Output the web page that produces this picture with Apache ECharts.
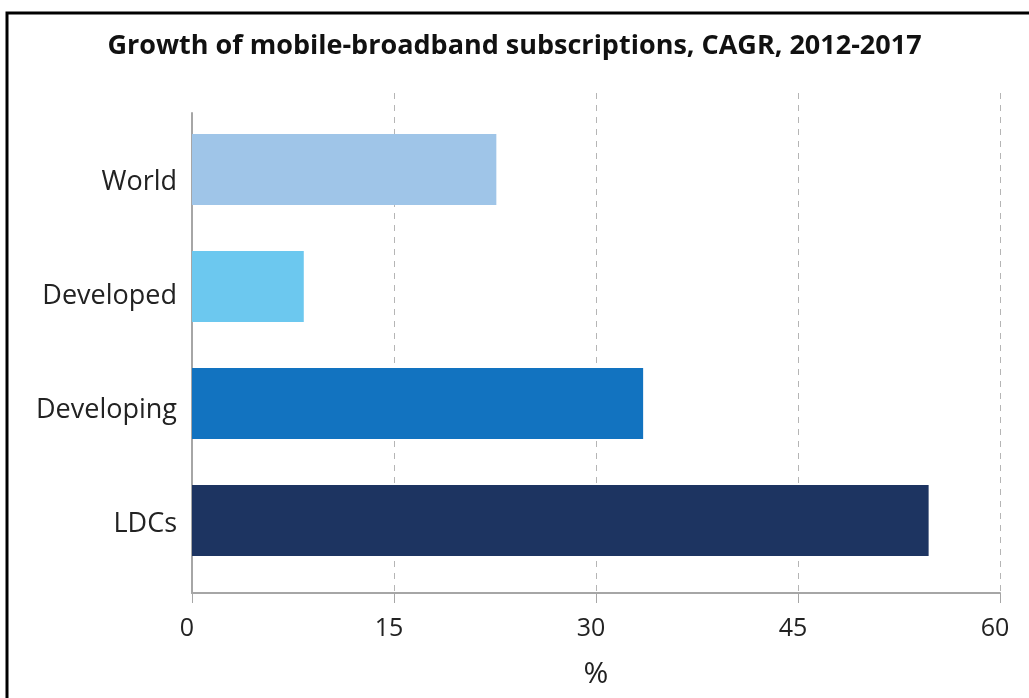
<!DOCTYPE html>
<html>
<head>
<meta charset="utf-8">
<script src="https://cdn.jsdelivr.net/npm/echarts@6/dist/echarts.min.js"></script>
<style>
    html, body { margin: 0; padding: 0; background: #fff; }
    #chart { width: 1029px; height: 698px; }
</style>
</head>
<body>
<div id="chart"></div>
<script>
    const categories = ['World', 'Developed', 'Developing', 'LDCs']
    const cagr = [22.6, 8.3, 33.5, 54.7]
    const barColors = ['#9fc5e8', '#6cc8ef', '#1273c0', '#1d3461']
    const xTicks = { min: 0, max: 60, interval: 15 }

    const myChart = echarts.init(document.getElementById('chart'))
    const font = '"Open Sans", "Noto Sans", sans-serif'

    let option = {
        animation: false,
        title: {
            text: 'Growth of mobile-broadband subscriptions, CAGR, 2012-2017',
            left: 'center',
            top: 28,
            textStyle: { fontFamily: font, fontSize: 27, fontWeight: 'bold', color: '#111' }
        },
        graphic: [{
            type: 'rect',
            shape: { x: 7, y: 13, width: 1100, height: 800 },
            style: { fill: 'none', stroke: '#000', lineWidth: 3 },
            silent: true
        }],
        grid: [
            // bars
            { left: 192, right: 29, top: 111, height: 468 },
            // value axis, gridlines
            { left: 192, right: 29, top: 93, height: 500 },
            // category axis line
            { left: 192, right: 29, top: 113, height: 480 },
            // category labels
            { left: 192, right: 29, top: 125, height: 456 }
        ],
        xAxis: [
            { gridIndex: 0, type: 'value', min: xTicks.min, max: xTicks.max, interval: xTicks.interval, show: false },
            {
                gridIndex: 1, type: 'value', min: xTicks.min, max: xTicks.max, interval: xTicks.interval,
                name: '%', nameLocation: 'middle', nameGap: 66,
                nameTextStyle: { fontFamily: font, fontSize: 30, color: '#222' },
                axisLine: { show: true, lineStyle: { color: '#a6a6a6', width: 2 } },
                axisTick: { show: true, length: 10, lineStyle: { color: '#a6a6a6' } },
                axisLabel: { fontFamily: font, fontSize: 25, color: '#222', margin: 23, padding: [0, 10, 0, 0] },
                splitLine: {
                    show: true,
                    lineStyle: { type: [6, 6], color: ['transparent', '#b5b5b5', '#b5b5b5', '#b5b5b5', '#b5b5b5'] }
                }
            },
            { gridIndex: 2, type: 'value', min: xTicks.min, max: xTicks.max, show: false },
            { gridIndex: 3, type: 'value', min: xTicks.min, max: xTicks.max, show: false }
        ],
        yAxis: [
            { gridIndex: 0, type: 'category', inverse: true, data: categories, show: false },
            { gridIndex: 1, type: 'category', data: categories, show: false },
            {
                gridIndex: 2, type: 'category', data: categories,
                axisLine: { show: true, lineStyle: { color: '#a6a6a6', width: 2 } },
                axisTick: { show: false },
                axisLabel: { show: false }
            },
            {
                gridIndex: 3, type: 'category', inverse: true, data: categories,
                axisLine: { show: false },
                axisTick: { show: false },
                axisLabel: { fontFamily: font, fontSize: 27, color: '#222', margin: 15 }
            }
        ],
        series: [{
            type: 'bar',
            xAxisIndex: 0,
            yAxisIndex: 0,
            barWidth: 71,
            data: cagr.map((v, i) => ({ value: v, itemStyle: { color: barColors[i] } }))
        }]
    }
    myChart.setOption(option)
</script>
</body>
</html>
